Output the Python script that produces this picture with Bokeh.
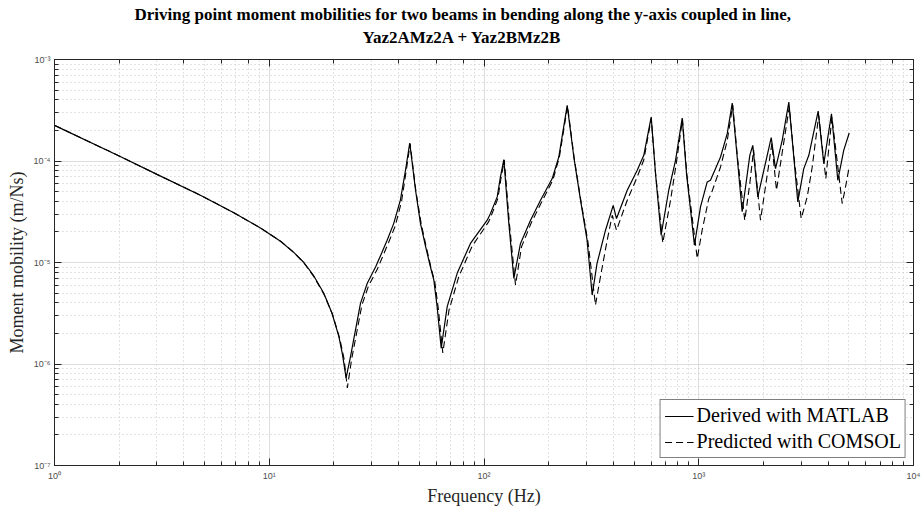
from bokeh.plotting import figure
from bokeh.models import LogAxis, LogTicker, CustomJSTickFormatter, Legend, LegendItem, Range1d, Title
from bokeh.embed import file_html
from bokeh.resources import INLINE

# Driving point moment mobility, beam A + beam B coupled in line (m/Ns)
freq_matlab = [1, 2, 3, 4.78, 6.84, 9.1, 11.28, 13.0, 14.5, 16.1, 17.95, 19.6, 21.1, 21.9,
               22.8, 23.9, 25.2, 26.6, 28.6, 31.3, 33.0, 35.4, 38.0, 40.8, 43.1, 45.1,
               48.0, 50.6, 53.5, 56.3, 58.4, 60.5, 63.2, 67.4, 75.0, 86.5, 103.5, 107.2,
               115.2, 119.3, 123.7, 130.5, 137.7, 147.9, 164.7, 183.3, 207.8, 223, 244,
               262, 281.5, 302, 319, 336, 368, 399.6, 414, 464.5, 517, 554.7, 600.6, 629,
               668, 725, 779.6, 837.5, 877, 955, 1019, 1095, 1134, 1263, 1357, 1432, 1510,
               1593, 1729, 1785, 1884, 2175, 2277, 2447, 2627, 2771, 2892, 3084, 3255,
               3598, 3822, 4150, 4442, 4732, 5019]
mob_matlab = [2.244e-4, 1.122e-4, 7.38e-5, 4.60e-5, 3.09e-5, 2.19e-5, 1.622e-5, 1.259e-5,
              1.0e-5, 7.41e-6, 4.97e-6, 3.16e-6, 1.862e-6, 1.259e-6, 7.29e-7, 1.183e-6,
              2.16e-6, 3.96e-6, 6.24e-6, 9.08e-6, 1.175e-5, 1.66e-5, 2.43e-5, 4.11e-5,
              8.11e-5, 1.503e-4, 5.15e-5, 2.43e-5, 1.426e-5, 9.08e-6, 6.71e-6, 3.67e-6,
              1.429e-6, 3.67e-6, 7.82e-6, 1.542e-5, 2.61e-5, 3.04e-5, 4.43e-5, 6.97e-5,
              1.033e-4, 2.43e-5, 6.98e-6, 1.542e-5, 2.61e-5, 4.11e-5, 6.71e-5, 1.094e-4,
              3.53e-4, 1.094e-4, 4.11e-5, 1.66e-5, 4.78e-6, 9.79e-6, 2.08e-5, 3.66e-5,
              2.71e-5, 5.15e-5, 8.11e-5, 1.138e-4, 2.71e-4, 7.52e-5, 1.862e-5, 5.15e-5,
              1.016e-4, 2.65e-4, 7.52e-5, 1.483e-5, 3.53e-5, 6.22e-5, 6.46e-5, 1.094e-4,
              1.858e-4, 3.72e-4, 1.094e-4, 3.16e-5, 1.138e-4, 1.426e-4, 4.43e-5, 1.698e-4,
              8.41e-5, 1.600e-4, 3.80e-4, 1.094e-4, 3.95e-5, 8.41e-5, 1.138e-4, 3.10e-4,
              9.42e-5, 2.92e-4, 6.46e-5, 1.274e-4, 1.888e-4]

freq_comsol = [1, 2, 3, 4.78, 6.84, 9.1, 11.28, 13.0, 14.5, 16.1, 17.95, 19.7, 21.3, 22.3,
               23.1, 24.2, 25.6, 27.0, 29.0, 31.8, 33.6, 36.0, 38.6, 41.3, 43.4, 45.3,
               48.2, 51.0, 54.0, 56.8, 59.0, 61.3, 64.3, 68.7, 76.3, 88, 105, 108.5, 116,
               120, 124.3, 131.5, 140.2, 149.5, 166, 185, 209, 224, 245, 263, 283, 305,
               330.5, 348.6, 374.7, 395.4, 414, 464.5, 517, 554.7, 601, 630, 680, 739, 785,
               840, 880, 984, 1037, 1114, 1140, 1263, 1357, 1440, 1515, 1638, 1729, 1800,
               1939, 2190, 2301, 2470, 2640, 2790, 2999, 3200, 3376, 3620, 3905, 4170,
               4656, 4825, 5000]
mob_comsol = [2.244e-4, 1.122e-4, 7.38e-5, 4.60e-5, 3.09e-5, 2.19e-5, 1.622e-5, 1.259e-5,
              9.89e-6, 7.30e-6, 4.90e-6, 3.09e-6, 1.778e-6, 1.122e-6, 5.82e-7, 1.122e-6,
              2.09e-6, 3.80e-6, 5.89e-6, 8.51e-6, 1.122e-5, 1.585e-5, 2.29e-5, 3.98e-5,
              7.94e-5, 1.479e-4, 5.01e-5, 2.40e-5, 1.380e-5, 8.71e-6, 6.46e-6, 3.47e-6,
              1.285e-6, 3.39e-6, 7.24e-6, 1.445e-5, 2.51e-5, 2.95e-5, 4.27e-5, 6.76e-5,
              1.023e-4, 2.34e-5, 6.00e-6, 1.426e-5, 2.46e-5, 3.89e-5, 6.46e-5, 1.072e-4,
              3.47e-4, 1.072e-4, 3.98e-5, 1.585e-5, 3.81e-6, 7.24e-6, 1.66e-5, 2.92e-5,
              2.08e-5, 4.11e-5, 6.97e-5, 1.023e-4, 2.63e-4, 7.41e-5, 1.563e-5, 4.11e-5,
              9.33e-5, 2.57e-4, 7.41e-5, 1.096e-5, 2.08e-5, 4.27e-5, 4.68e-5, 8.73e-5,
              1.585e-4, 3.55e-4, 1.072e-4, 2.61e-5, 6.00e-5, 1.288e-4, 2.61e-5, 1.483e-4,
              5.15e-5, 1.380e-4, 3.40e-4, 1.0e-4, 2.71e-5, 4.43e-5, 8.73e-5, 2.81e-4,
              6.71e-5, 2.71e-4, 3.81e-5, 5.55e-5, 8.41e-5]

title_line1 = "Driving point moment mobilities for two beams in bending along the y-axis coupled in line,"
title_line2 = "Yaz2AMz2A + Yaz2BMz2B"
x_label = "Frequency (Hz)"
y_label = "Moment mobility (m/Ns)"
legend_labels = ["Derived with MATLAB", "Predicted with COMSOL"]

SERIF = "Liberation Serif"
SANS = "Liberation Sans"
AXIS_COLOR = "#262626"

p = figure(width=921, height=508, x_axis_type="log", y_axis_type="log",
           x_range=Range1d(1, 1e4), y_range=Range1d(1e-7, 1e-3),
           output_backend="svg", toolbar_location=None,
           min_border_left=54, min_border_right=8, min_border_top=59, min_border_bottom=42,
           background_fill_color="white", border_fill_color="white", outline_line_color=None)

# power-of-ten tick labels with superscript exponents
power_fmt = CustomJSTickFormatter(code="""
const sup = {'-': '\u207b', '0': '\u2070', '1': '\u00b9', '2': '\u00b2', '3': '\u00b3',
             '4': '\u2074', '5': '\u2075', '6': '\u2076', '7': '\u2077', '8': '\u2078', '9': '\u2079'};
const e = Math.round(Math.log10(tick));
return '10' + String(e).split('').map(c => sup[c]).join('');
""")
blank_fmt = CustomJSTickFormatter(code="return '';")
space_fmt = CustomJSTickFormatter(code="return ' ';")


def style_axis(ax):
    ax.axis_line_color = AXIS_COLOR
    ax.axis_line_width = 1
    ax.major_tick_line_color = AXIS_COLOR
    ax.minor_tick_line_color = AXIS_COLOR
    ax.major_tick_in = 7
    ax.major_tick_out = 0
    ax.minor_tick_in = 4
    ax.minor_tick_out = 0
    ax.major_label_text_font = SANS
    ax.major_label_text_font_size = "9px"
    ax.major_label_text_color = "#4d4d4d"


for ax in (p.xaxis[0], p.yaxis[0]):
    style_axis(ax)
    ax.formatter = power_fmt
    ax.axis_label_text_font = SERIF
    ax.axis_label_text_font_size = "18px"
    ax.axis_label_text_font_style = "normal"
    ax.axis_label_text_color = "#262626"

p.xaxis.axis_label = x_label
p.yaxis.axis_label = y_label
p.xaxis.major_label_standoff = 5
p.xaxis.axis_label_standoff = 2
p.yaxis.major_label_standoff = 4
p.yaxis.axis_label_standoff = 4

# box frame: ticks on the top and right edges too (the top one also spaces the title)
top_ax = LogAxis(ticker=LogTicker(), formatter=space_fmt, major_label_standoff=6)
right_ax = LogAxis(ticker=LogTicker(), formatter=blank_fmt, major_label_standoff=0)
style_axis(top_ax)
style_axis(right_ax)
top_ax.major_label_text_font_size = "2px"
p.add_layout(top_ax, "above")
p.add_layout(right_ax, "right")

# two-line bold title, centred over the whole figure
title_style = dict(align="left", text_font=SERIF, text_font_style="bold",
                   text_font_size="17px", text_color="black")
p.add_layout(Title(text=title_line2, standoff=4, offset=308, **title_style), "above")
p.title.text = title_line1
for k, v in title_style.items():
    setattr(p.title, k, v)
p.title.offset = 80
p.title.standoff = 0

for g in (p.xgrid[0], p.ygrid[0]):
    g.grid_line_color = "#dedede"
    g.grid_line_width = 1
    g.minor_grid_line_color = "#c4c4c4"
    g.minor_grid_line_dash = "1 3"
    g.minor_grid_line_width = 1

r_matlab = p.line(freq_matlab, mob_matlab, line_color="black", line_width=1.2)
r_comsol = p.line(freq_comsol, mob_comsol, line_color="black", line_width=1.1, line_dash="7 4")

legend = Legend(items=[LegendItem(label=legend_labels[0], renderers=[r_matlab]),
                       LegendItem(label=legend_labels[1], renderers=[r_comsol])],
                location="bottom_right")
legend.label_text_font = SERIF
legend.label_text_font_size = "20px"
legend.label_text_color = "black"
legend.border_line_color = "black"
legend.border_line_width = 1
legend.background_fill_color = "white"
legend.background_fill_alpha = 1
legend.glyph_width = 29
legend.glyph_height = 20
legend.label_height = 20
legend.label_standoff = 3
legend.padding = 4
legend.spacing = 3
legend.margin = 7
p.add_layout(legend, "center")

open("out.html", "w").write(file_html(p, INLINE))
